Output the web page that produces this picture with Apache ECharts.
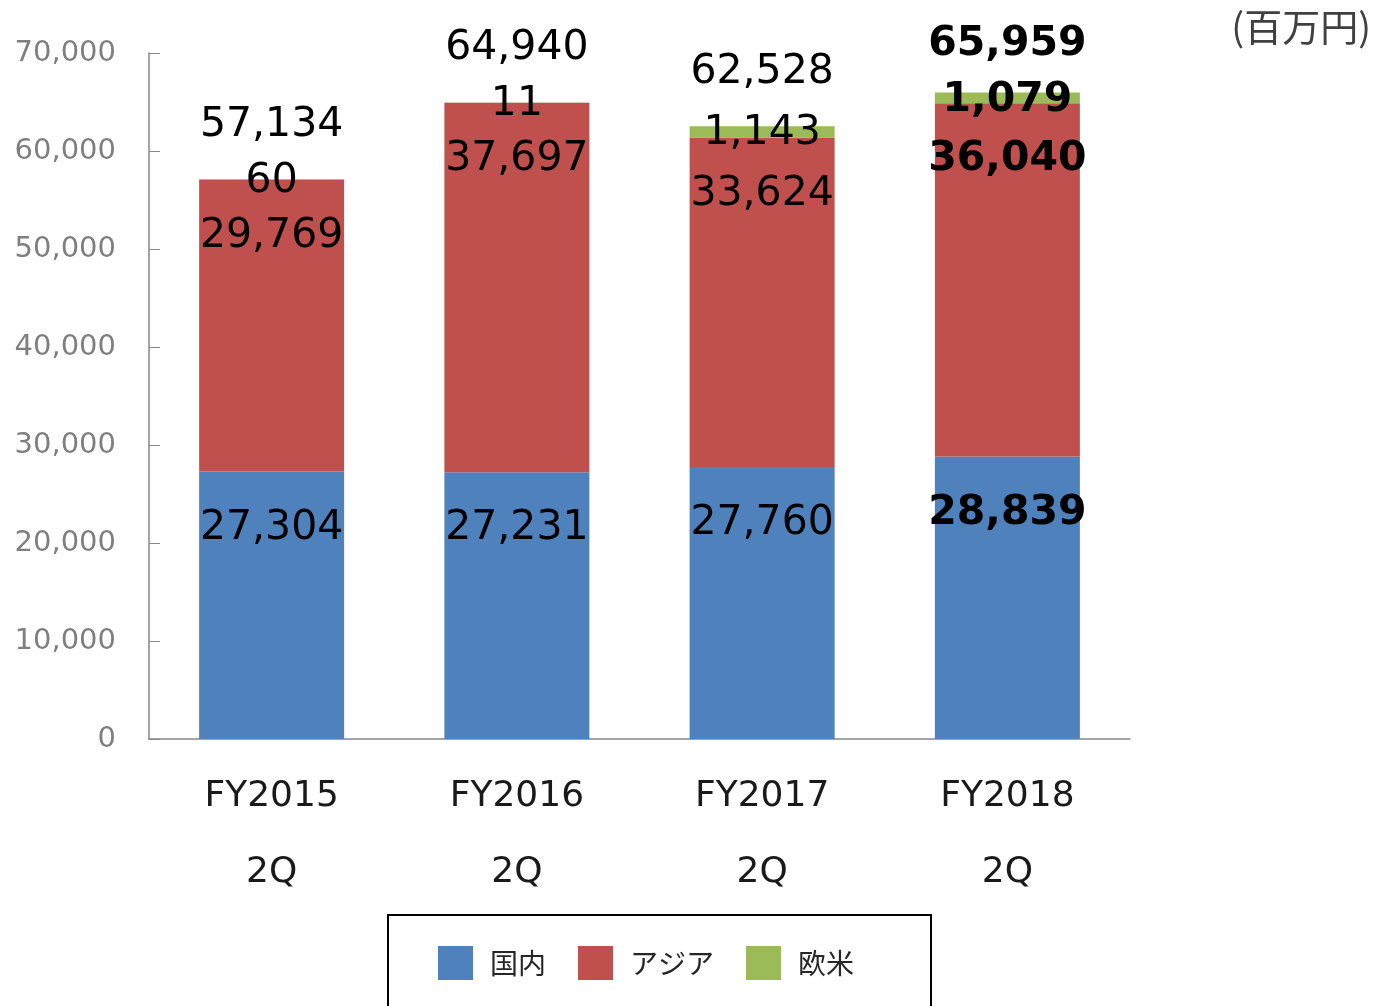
<html>
<head>
    <meta charset="utf-8">
    <script src="https://cdn.jsdelivr.net/npm/echarts@6/dist/echarts.min.js"></script>
</head>
<body style="margin:0">
<div id="main" style="width:1373px;height:1006px;"></div>
<script>
    var categories = ['FY2015\n2Q', 'FY2016\n2Q', 'FY2017\n2Q', 'FY2018\n2Q'];
    var domestic = [27304, 27231, 27760, 28839];
    var asia = [29769, 37697, 33624, 36040];
    var westerners = [60, 11, 1143, 1079];
    var totals = [57134, 64940, 62528, 65959];
    var yTicks = [0, 10000, 20000, 30000, 40000, 50000, 60000, 70000];

    var numFont = 'DejaVu Sans';
    var jpFont = '"Noto Sans CJK JP", "DejaVu Sans"';

    function fmt(v) {
        return v.toLocaleString('en-US');
    }

    // last bar is drawn with bold labels
    function labelled(values, extra) {
        return values.map(function (v, i) {
            var item = {value: v};
            if (i === values.length - 1) {
                item.label = Object.assign({fontWeight: 'bold'}, extra || {});
            }
            return item;
        });
    }

    var chart = echarts.init(document.getElementById('main'));

    var dataLabel = {
        show: true,
        color: '#000',
        fontFamily: numFont,
        fontSize: 41,
        formatter: function (p) { return fmt(p.value); }
    };

    var option = {
        animation: false,
        grid: {
            left: 149,
            right: 243,
            top: 53,
            bottom: 267
        },
        legend: {
            data: ['国内', 'アジア', '欧米'],
            left: 388,
            top: 915,
            padding: [31, 77, 30, 50],
            borderColor: '#000',
            borderWidth: 2,
            icon: 'rect',
            itemWidth: 35,
            itemHeight: 34,
            itemGap: 32,
            textStyle: {
                fontFamily: jpFont,
                fontSize: 28,
                color: '#262626',
                padding: [0, 0, 0, 12]
            }
        },
        graphic: [{
            type: 'text',
            right: 2,
            top: 8,
            style: {
                text: '(百万円)',
                font: '38px "Noto Sans CJK JP"',
                fill: '#404040'
            }
        }],
        xAxis: {
            type: 'category',
            data: categories,
            axisLine: {lineStyle: {color: '#868686', width: 1.5}},
            axisTick: {inside: true, length: 13, lineStyle: {color: '#868686'}},
            axisLabel: {
                color: '#1a1a1a',
                fontFamily: numFont,
                fontSize: 36,
                lineHeight: 76,
                margin: 20
            }
        },
        yAxis: {
            type: 'value',
            min: 0,
            max: 70000,
            interval: 10000,
            axisLine: {show: true, lineStyle: {color: '#868686', width: 1.5}},
            axisTick: {show: true, inside: true, length: 11, lineStyle: {color: '#868686'}},
            splitLine: {show: false},
            axisLabel: {
                color: '#7f7f7f',
                fontFamily: numFont,
                fontSize: 29,
                margin: 33,
                formatter: function (v) {
                    return yTicks.indexOf(v) >= 0 ? fmt(v) : '';
                }
            }
        },
        series: [
            {
                name: '国内',
                type: 'bar',
                stack: 'sales',
                barWidth: 145,
                itemStyle: {color: '#4F81BD'},
                label: Object.assign({position: 'insideTop', distance: 36}, dataLabel),
                data: labelled(domestic)
            },
            {
                name: 'アジア',
                type: 'bar',
                stack: 'sales',
                barWidth: 145,
                itemStyle: {color: '#C0504D'},
                label: Object.assign({position: 'insideTop', distance: 36}, dataLabel),
                data: labelled(asia)
            },
            {
                name: '欧米',
                type: 'bar',
                stack: 'sales',
                barWidth: 145,
                itemStyle: {color: '#9BBB59'},
                label: Object.assign({position: 'inside', offset: [0, 2]}, dataLabel),
                data: labelled(westerners)
            },
            {
                name: '合計',
                type: 'line',
                silent: true,
                symbol: 'circle',
                symbolSize: 1,
                itemStyle: {color: 'transparent'},
                lineStyle: {opacity: 0},
                label: Object.assign({position: 'top', distance: 33}, dataLabel),
                data: labelled(totals, {distance: 27})
            }
        ]
    };

    chart.setOption(option);
</script>
</body>
</html>
